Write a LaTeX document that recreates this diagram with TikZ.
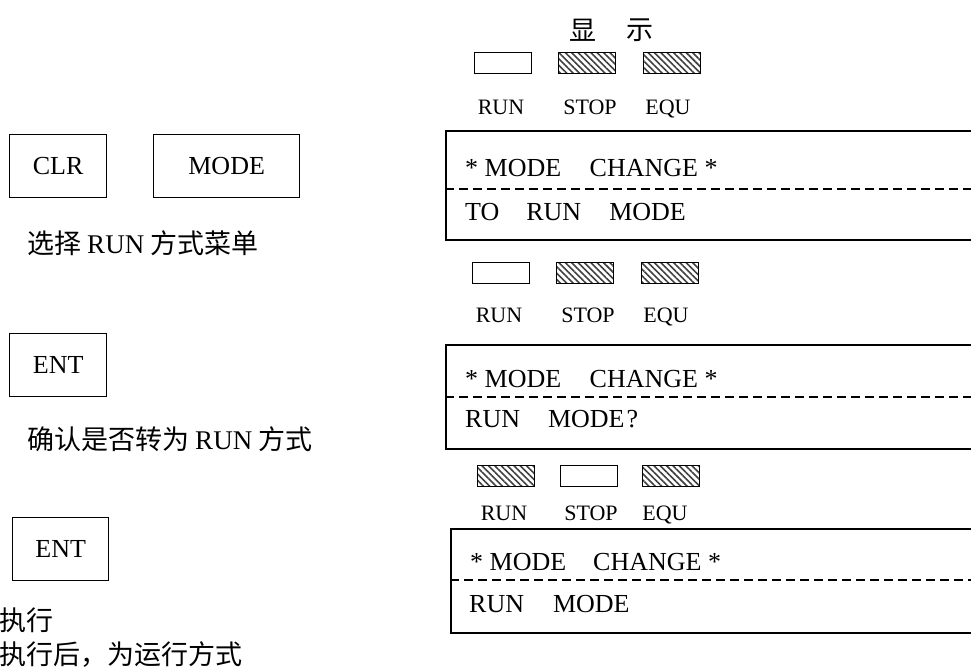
\documentclass[tikz,border=0pt]{standalone}
\usepackage{fontspec}
\setmainfont{Liberation Serif}
\newfontfamily\cjk{Noto Sans CJK SC}
\usetikzlibrary{patterns.meta}
\tikzset{
  keybox/.style={draw, line width=1.3pt, minimum height=63pt, inner sep=0pt,
    font=\fontsize{26}{30}\selectfont, anchor=north west},
  lcdbox/.style={draw, line width=1.6pt, anchor=north west, inner sep=0pt, minimum width=560pt},
  lcdtext/.style={anchor=base west, inner sep=0pt, font=\fontsize{26}{30}\selectfont},
  lcddash/.style={line width=1.3pt, dash pattern=on 9pt off 5pt},
  lamp/.style={draw, line width=1.3pt, minimum width=57pt, minimum height=21pt,
    inner sep=0pt, anchor=north west},
  lampon/.style={lamp, fill=white},
  lampoff/.style={lamp, pattern={Lines[angle=-45,distance=4.5pt,line width=1.6pt]},
    pattern color=black!75},
  lamplabel/.style={anchor=base, inner sep=0pt, font=\fontsize{22}{26}\selectfont},
  note/.style={anchor=west, inner sep=0pt, font=\fontsize{27}{32}\selectfont\cjk},
}
\begin{document}
\begin{tikzpicture}[x=1pt,y=-1pt]
\useasboundingbox (0,0) rectangle (971,671);

% title
\node[inner sep=0pt, font=\fontsize{27}{32}\selectfont\cjk] (disp1) at (583,30) {显};
\node[inner sep=0pt, font=\fontsize{27}{32}\selectfont\cjk] (disp2) at (640,30) {示};

% row 1 lamps
\node[lampon]  (r1run)  at (474,52) {};
\node[lampoff] (r1stop) at (558,52) {};
\node[lampoff] (r1equ)  at (643,52) {};
\node[lamplabel] (l1run)  at (501,115) {RUN};
\node[lamplabel] (l1stop) at (590,115) {STOP};
\node[lamplabel] (l1equ)  at (668,115) {EQU};

% LCD 1
\node[lcdbox, minimum height=109pt] (lcd1) at (445,130) {};
\draw[lcddash] (lcd1.west |- 0,189) -- (lcd1.east |- 0,189);
\node[lcdtext] (t1a) at (465,177) {* MODE\hspace{28.5pt}CHANGE *};
\node[lcdtext] (t1b) at (465,220) {TO\hspace{27pt}RUN\hspace{28pt}MODE};

% keys 1
\node[keybox, minimum width=97pt]  (clr)  at (9,134)   {CLR};
\node[keybox, minimum width=146pt] (mode) at (153,134) {MODE};
\node[note] (n1) at (27,243) {选择 {\rmfamily RUN} 方式菜单};

% row 2 lamps
\node[lampon]  (r2run)  at (472,262) {};
\node[lampoff] (r2stop) at (556,262) {};
\node[lampoff] (r2equ)  at (641,262) {};
\node[lamplabel] (l2run)  at (499,322) {RUN};
\node[lamplabel] (l2stop) at (588,322) {STOP};
\node[lamplabel] (l2equ)  at (666,322) {EQU};

% LCD 2
\node[lcdbox, minimum height=104pt] (lcd2) at (445,344) {};
\draw[lcddash] (lcd2.west |- 0,397) -- (lcd2.east |- 0,397);
\node[lcdtext] (t2a) at (465,387) {* MODE\hspace{28.5pt}CHANGE *};
\node[lcdtext] (t2b) at (465,427) {RUN\hspace{28pt}MODE\kern2pt?};

% key 2
\node[keybox, minimum width=97pt] (ent1) at (9,333) {ENT};
\node[note] (n2) at (27,439) {确认是否转为 {\rmfamily RUN} 方式};

% row 3 lamps
\node[lampoff] (r3run)  at (477,465) {};
\node[lampon]  (r3stop) at (560,465) {};
\node[lampoff] (r3equ)  at (642,465) {};
\node[lamplabel] (l3run)  at (504,520) {RUN};
\node[lamplabel] (l3stop) at (591,520) {STOP};
\node[lamplabel] (l3equ)  at (665,520) {EQU};

% LCD 3
\node[lcdbox, minimum height=104pt] (lcd3) at (450,528) {};
\draw[lcddash] (lcd3.west |- 0,580) -- (lcd3.east |- 0,580);
\node[lcdtext] (t3a) at (470,570) {* MODE\hspace{27pt}CHANGE *};
\node[lcdtext] (t3b) at (469,612) {RUN\hspace{29pt}MODE};

% key 3
\node[keybox, minimum width=96pt] (ent2) at (12,517) {ENT};
\node[note] (n3) at (-1,620) {执行};
\node[note] (n4) at (-1,655) {执行后，为运行方式};
\end{tikzpicture}
\end{document}
